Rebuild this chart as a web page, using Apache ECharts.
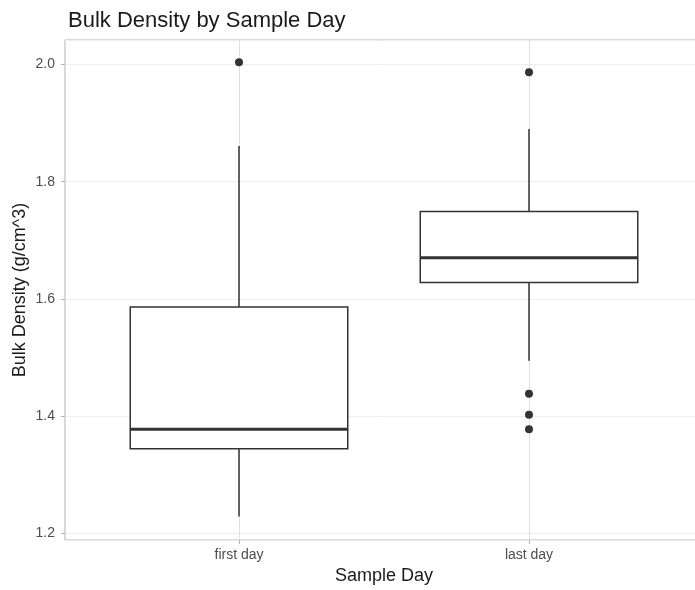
<!DOCTYPE html>
<html>
<head>
<meta charset="utf-8">
<script src="https://cdn.jsdelivr.net/npm/echarts@6/dist/echarts.min.js"></script>
<style>html,body{margin:0;padding:0;background:#fff;}#c{width:695px;height:590px;}</style>
</head>
<body>
<div id="c"></div>
<script>
const categories = ['first day', 'last day'];
// [lower whisker, Q1, median, Q3, upper whisker]
const boxStats = [
  [1.228, 1.344, 1.377, 1.586, 1.861],
  [1.494, 1.628, 1.670, 1.749, 1.890]
];
const outliers = [
  [2.004],
  [1.987, 1.438, 1.402, 1.377]
];
const yMajorTicks = [1.2, 1.4, 1.6, 1.8, 2.0];
const yMinorTicks = [1.3, 1.5, 1.7, 1.9];
const xTicks = [1, 2];

const boxData = boxStats.map((s, i) => [i + 1].concat(s));
const outlierData = [];
outliers.forEach((arr, i) => arr.forEach(v => outlierData.push([i + 1, v])));

const font = 'Liberation Sans, Arial, Helvetica, sans-serif';
const chart = echarts.init(document.getElementById('c'), null, {renderer: 'canvas'});
chart.setOption({
  animation: false,
  backgroundColor: '#ffffff',
  title: {
    text: 'Bulk Density by Sample Day',
    left: 63, top: 5,
    textStyle: {fontFamily: font, fontSize: 22, fontWeight: 'normal', color: '#1a1a1a'}
  },
  grid: {
    left: 65, top: 40, width: 638, height: 500,
    outerBoundsMode: 'none',
    show: true, borderColor: '#b3b3b3', borderWidth: 1, backgroundColor: 'transparent'
  },
  xAxis: {
    type: 'value', min: 0.4, max: 2.6,
    name: 'Sample Day', nameLocation: 'middle', nameGap: 27,
    nameTextStyle: {fontFamily: font, fontSize: 18, color: '#1a1a1a'},
    axisLine: {show: false},
    axisTick: {show: true, customValues: xTicks, length: 4, lineStyle: {color: '#b3b3b3'}},
    axisLabel: {customValues: xTicks, formatter: v => categories[Math.round(v) - 1] || '',
      fontFamily: font, fontSize: 14, color: '#4d4d4d', margin: 8},
    splitLine: {show: true, customValues: xTicks, lineStyle: {color: '#e0e0e0', width: 1}}
  },
  yAxis: [{
    type: 'value', min: 1.188, max: 2.042,
    name: 'Bulk Density (g/cm^3)', nameLocation: 'middle', nameGap: 36, nameRotate: 90,
    nameMoveOverlap: false,
    nameTextStyle: {fontFamily: font, fontSize: 18, color: '#1a1a1a'},
    axisLine: {show: false},
    axisTick: {show: true, customValues: yMajorTicks, length: 4, lineStyle: {color: '#b3b3b3'}},
    axisLabel: {customValues: yMajorTicks, formatter: v => v.toFixed(1),
      fontFamily: font, fontSize: 14, color: '#4d4d4d', margin: 10},
    splitLine: {show: true, customValues: yMajorTicks, lineStyle: {color: '#e0e0e0', width: 1}}
  }, {
    type: 'value', min: 1.188, max: 2.042, position: 'left',
    axisLine: {show: false}, axisTick: {show: false}, axisLabel: {show: false},
    splitLine: {show: true, customValues: yMinorTicks, lineStyle: {color: '#eeeeee', width: 1}}
  }],
  series: [{
    type: 'custom',
    data: boxData,
    z: 3,
    renderItem: function (params, api) {
      const x = api.value(0);
      const lo = api.coord([x, api.value(1)]);
      const q1 = api.coord([x, api.value(2)]);
      const md = api.coord([x, api.value(3)]);
      const q3 = api.coord([x, api.value(4)]);
      const hi = api.coord([x, api.value(5)]);
      const hw = api.size([0.75, 0])[0] / 2;
      const cx = lo[0];
      const stroke = '#333333';
      return {
        type: 'group',
        children: [
          {type: 'line', shape: {x1: cx, y1: hi[1], x2: cx, y2: q3[1]}, style: {stroke: stroke, lineWidth: 1.5}},
          {type: 'line', shape: {x1: cx, y1: q1[1], x2: cx, y2: lo[1]}, style: {stroke: stroke, lineWidth: 1.5}},
          {type: 'rect', shape: {x: cx - hw, y: q3[1], width: 2 * hw, height: q1[1] - q3[1]},
            style: {fill: '#ffffff', stroke: stroke, lineWidth: 1.5}},
          {type: 'line', shape: {x1: cx - hw, y1: md[1], x2: cx + hw, y2: md[1]}, style: {stroke: stroke, lineWidth: 3}}
        ]
      };
    }
  }, {
    type: 'scatter',
    data: outlierData,
    symbol: 'circle', symbolSize: 8, z: 4,
    itemStyle: {color: '#333333', opacity: 1}
  }]
});
</script>
</body>
</html>
